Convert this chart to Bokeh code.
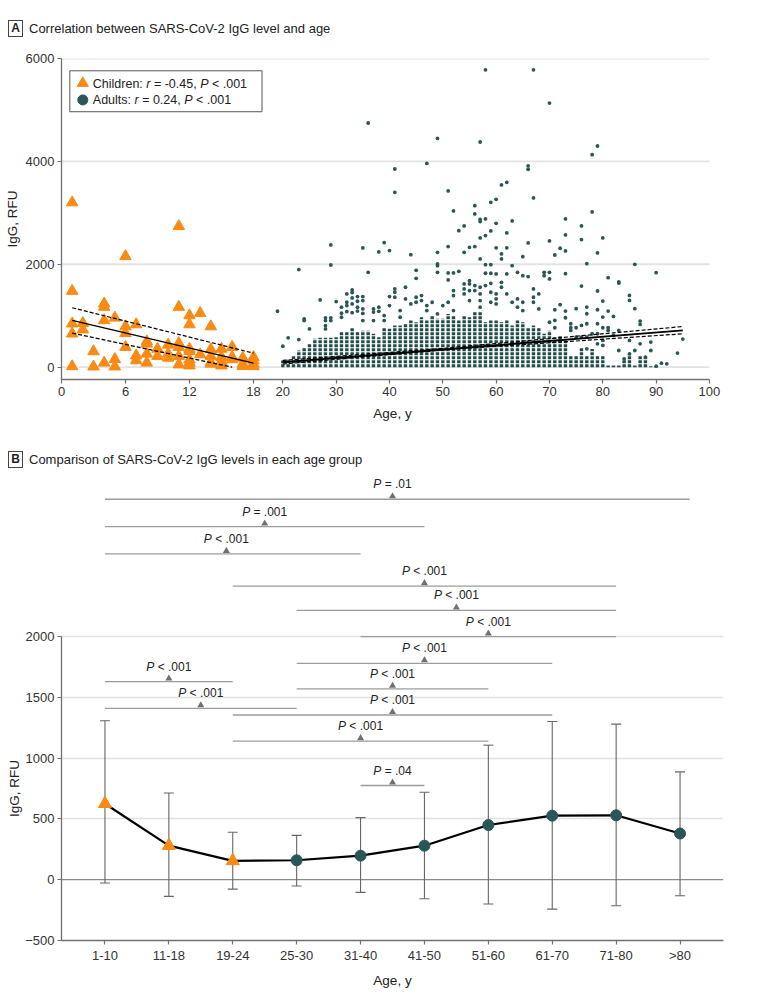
from bokeh.plotting import figure
from bokeh.models import ColumnDataSource, FixedTicker, Span, Div, Title
from bokeh.layouts import column
from bokeh.core.properties import value
from bokeh.embed import file_html
from bokeh.resources import INLINE

FONT = "Liberation Sans"
ORANGE = "#F98A14"
TEAL = "#2A5655"
TEAL_COL = "#214B49"
AXIS = "#707070"
GRID = "#E3E3E3"
TXT = "#222222"

# ---------------- Panel A data ----------------
child_age = [1, 1, 1, 1, 1, 2, 2, 3, 3, 4, 4, 4, 4, 5, 5, 5, 6, 6, 6, 6,
             7, 7, 7, 8, 8, 8, 8, 9, 9, 10, 10, 10, 11, 11, 11, 11, 11, 11,
             12, 12, 12, 12, 12, 12, 12, 13, 13, 14, 14, 14, 14, 14,
             15, 15, 15, 15, 16, 16, 16, 17, 17, 17, 18, 18, 18, 18]
child_igg = [3200, 1480, 845, 650, 15, 855, 730, 305, 10, 1235, 1170, 910, 85, 960, 155, 10, 2155, 790, 660, 390,
             830, 225, 130, 500, 455, 260, 85, 355, 215, 435, 260, 180, 2740, 1170, 465, 390, 215, 50,
             1005, 830, 355, 310, 145, 85, 30, 1050, 245, 790, 345, 215, 95, 65,
             355, 195, 115, 30, 390, 195, 150, 180, 65, 20, 195, 130, 65, 15]

child_fit_age = [1, 18]
child_fit = [909, 78]
child_hi_age = [1, 18]
child_hi = [1155, 272]
child_lo_age = [1, 16]
child_lo = [662, 0]

# dense columns of adult dots (age, top of the packed column)
adult_col_age = [20, 21, 22, 23, 24, 25, 26, 27, 28, 29, 30, 31, 32, 33, 34, 35, 36, 37, 38, 39,
                 40, 41, 42, 43, 44, 45, 46, 47, 48, 49, 50, 51, 52, 53, 54, 55, 56, 57, 58, 59,
                 60, 61, 62, 63, 64, 65, 66, 67, 68, 69, 70, 71, 72, 73, 74, 75, 76, 77, 78, 79,
                 80, 81, 82, 83, 84, 85, 86, 87, 88, 89, 90]
adult_col_top = [130, 160, 225, 325, 375, 450, 550, 570, 570, 570, 580, 680, 700, 765, 700, 710, 710, 650, 580, 765,
                 745, 810, 810, 840, 905, 875, 970, 905, 1000, 940, 940, 1035, 1000, 905, 1000, 970, 1070, 1070, 875, 905,
                 905, 875, 905, 810, 905, 875, 775, 810, 775, 650, 710, 580, 615, 520, 225, 225, 375, 225, 355, 225,
                 225, 30, 30, 30, 160, 260, 30, 225, 195, 20, 20]

# scattered adult dots
adult_out_age = [
    58, 67, 70, 36, 49, 57, 79, 78, 47, 66,
    41, 66, 62, 61, 51, 41, 67, 60, 59, 56,
    52, 78, 56, 58, 73, 57, 63, 57, 60, 54,
    76, 53, 59, 62, 73, 58, 57, 80, 76, 70,
    39, 66, 29, 51, 56, 55, 60, 62, 35, 72,
    40, 38, 49, 54, 73, 79, 61, 44, 71, 65,
    57, 61, 77, 49, 86, 58, 59, 29, 49, 63,
    23, 45, 53, 36, 49, 64, 69, 70, 90, 51,
    52, 58, 59, 73, 60, 62, 65, 69, 66, 81,
    45, 70, 51, 55, 83, 61, 83, 59, 54, 55,
    56, 58, 76, 43, 57, 61, 41, 54, 67, 33,
    52, 55, 56, 79, 41, 59, 33, 32, 54, 57,
    60, 62, 68, 85, 46, 52, 34, 35, 40, 41,
    45, 67, 33, 43, 60, 64, 27, 85, 35, 46,
    55, 57, 80, 34, 30, 32, 45, 48, 51, 59,
    63, 65, 67, 33, 44, 60, 72, 32, 40, 47,
    50, 77, 31, 34, 38, 57, 64, 35, 37, 68,
    75, 86, 71, 79, 42, 47, 52, 65, 73, 81,
    19, 31, 32, 33, 34, 35, 37, 38, 77, 49,
    39, 82, 80, 31, 42, 73, 28, 29, 24, 71,
    24, 28, 29, 35, 37, 39, 87, 70, 74, 77,
    79, 87, 76, 28, 71, 74, 75, 80, 81, 25,
    28, 74, 81, 83, 78, 79, 82, 75, 76, 77,
    21, 95, 23, 80, 85, 89, 79, 87, 80, 20,
    77, 83, 86, 89, 94, 85, 88, 84, 91, 92,
    90]
adult_out_igg = [
    5780, 5780, 5134, 4746, 4447, 4377, 4299, 4130, 3961, 3911,
    3852, 3845, 3592, 3542, 3425, 3398, 3289, 3262, 3204, 3140,
    3037, 3017, 2979, 2881, 2881, 2870, 2843, 2830, 2796, 2745,
    2745, 2654, 2648, 2610, 2571, 2557, 2512, 2512, 2480, 2454,
    2421, 2415, 2376, 2343, 2343, 2330, 2320, 2320, 2318, 2311,
    2266, 2239, 2232, 2232, 2259, 2220, 2200, 2187, 2180, 2148,
    2103, 2103, 2012, 2006, 1999, 1993, 1993, 1986, 1973, 1973,
    1896, 1883, 1863, 1844, 1844, 1844, 1844, 1844, 1837, 1831,
    1831, 1825, 1825, 1817, 1812, 1812, 1779, 1779, 1760, 1739,
    1727, 1715, 1695, 1682, 1655, 1650, 1635, 1630, 1618, 1618,
    1585, 1585, 1577, 1553, 1553, 1553, 1520, 1520, 1520, 1501,
    1488, 1488, 1488, 1480, 1456, 1456, 1449, 1423, 1423, 1423,
    1423, 1423, 1423, 1395, 1391, 1391, 1372, 1372, 1372, 1359,
    1359, 1359, 1346, 1326, 1326, 1326, 1307, 1298, 1294, 1294,
    1294, 1294, 1285, 1281, 1275, 1262, 1262, 1262, 1262, 1262,
    1262, 1262, 1262, 1229, 1229, 1229, 1214, 1197, 1197, 1197,
    1197, 1168, 1165, 1165, 1165, 1165, 1165, 1132, 1132, 1132,
    1136, 1136, 1116, 1116, 1100, 1100, 1100, 1100, 1090, 1090,
    1087, 1050, 1080, 1060, 1090, 1045, 1070, 1085, 1038, 1035,
    1003, 986, 973, 970, 970, 960, 958, 958, 938, 909,
    906, 906, 906, 906, 906, 906, 896, 873, 844, 844,
    844, 831, 811, 809, 766, 766, 766, 766, 766, 744,
    744, 714, 714, 714, 649, 649, 617, 584, 584, 584,
    570, 545, 537, 519, 519, 487, 454, 454, 422, 408,
    357, 324, 324, 324, 273, 260, 195, 162, 78, 65,
    19]

adult_fit_age = [20, 95]
adult_fit = [95, 715]
adult_ci_age = [20, 50, 95]
adult_ci_hi = [130, 365, 790]
adult_ci_lo = [60, 335, 648]

a_xtick_child = [0, 6, 12, 18]
a_xtick_adult = [20, 30, 40, 50, 60, 70, 80, 90, 100]
a_yticks = [0, 2000, 4000, 6000]

legend_rows = [
    (["Children:", "r", "= -0.45,", "P", "< .001"], [False, True, False, True, False]),
    (["Adults:", "r", "= 0.24,", "P", "< .001"], [False, True, False, True, False]),
]

# ---------------- Panel B data ----------------
b_groups = ["1-10", "11-18", "19-24", "25-30", "31-40", "41-50", "51-60", "61-70", "71-80", ">80"]
b_mean = [625, 280, 155, 160, 198, 280, 450, 527, 530, 380]
b_hi = [1308, 714, 390, 365, 511, 720, 1107, 1302, 1280, 887]
b_lo = [-27, -137, -77, -52, -104, -157, -200, -242, -214, -132]
b_n_child = 3
b_yticks = [-500, 0, 500, 1000, 1500, 2000]

br_start = [1, 1, 1, 3, 4, 5, 4, 1, 4, 1, 3, 3, 5]
br_end = [10.15, 6, 5, 9, 9, 9, 8, 3, 7, 4, 8, 7, 6]
br_y = [3130, 2905, 2680, 2415, 2215, 2000, 1780, 1630, 1570, 1410, 1355, 1140, 775]
br_mark = [5.5, 3.5, 2.9, 6, 6.5, 7, 6, 2, 5.5, 2.5, 5.5, 5, 5.5]
br_rest = ["= .01", "= .001", "< .001", "< .001", "< .001", "< .001", "< .001",
           "< .001", "< .001", "< .001", "< .001", "< .001", "= .04"]

# ---------------- helpers ----------------
CHAR_W = {' ': 0.278, ',': 0.278, '-': 0.333, '.': 0.278, ':': 0.278, '<': 0.584, '=': 0.584,
          'A': 0.667, 'C': 0.722, 'P': 0.667, 'd': 0.556, 'e': 0.556, 'h': 0.556, 'i': 0.222,
          'l': 0.222, 'n': 0.556, 'r': 0.333, 's': 0.5, 't': 0.278, 'u': 0.556,
          'I': 0.278, 'g': 0.556, 'G': 0.778, 'R': 0.722, 'F': 0.611, 'U': 0.722}


def text_w(s, size):
    return sum(CHAR_W.get(c, 0.556) for c in s) * size


CHILD_K = 2.0
ADULT_SHIFT = 21.5


def cu(a):
    return a * CHILD_K


def au(a):
    return a + ADULT_SHIFT


W = 770
BL, BR = 61, 47          # left / right borders: same frame for both panels
AXL_SIZE = 13.5


def style(p):
    p.outline_line_color = None
    p.background_fill_color = "white"
    p.border_fill_color = "white"
    p.xgrid.visible = False
    p.ygrid.grid_line_color = GRID
    p.ygrid.grid_line_width = 1.6
    for ax in list(p.xaxis) + list(p.yaxis):
        ax.axis_line_color = AXIS
        ax.axis_line_width = 1.3
        ax.major_tick_line_color = AXIS
        ax.major_tick_line_width = 1.2
        ax.major_tick_in = 0
        ax.major_tick_out = 4
        ax.minor_tick_line_color = None
        ax.major_label_text_font = FONT
        ax.major_label_text_font_size = "13px"
        ax.major_label_text_color = "#333333"
        ax.major_label_standoff = 3
        ax.axis_label_text_font = FONT
        ax.axis_label_text_font_size = f"{AXL_SIZE}px"
        ax.axis_label_text_font_style = "normal"
        ax.axis_label_text_color = TXT
    for ax in p.xaxis:
        ax.axis_label_standoff = 7
    for ax in p.yaxis:
        ax.axis_label_standoff = 3


# ---------------- Panel A ----------------
A_PX_PER_UNIT = 5.333
A_XEND = (W - BL - BR) / A_PX_PER_UNIT
pA = figure(width=W, height=386, x_range=(0, A_XEND), y_range=(-240, 6000), title=None,
            output_backend="svg", toolbar_location=None,
            min_border_left=BL, min_border_right=BR, min_border_top=10, min_border_bottom=55)
style(pA)
pA.ygrid.visible = False
pA.xaxis.axis_label = "Age, y"
pA.yaxis.axis_label = "IgG, RFU"
xt = [cu(t) for t in a_xtick_child] + [au(t) for t in a_xtick_adult]
xl = [str(t) for t in a_xtick_child + a_xtick_adult]
pA.xaxis.ticker = FixedTicker(ticks=xt)
pA.xaxis.major_label_overrides = {k: v for k, v in zip(xt, xl)}
pA.xaxis.bounds = (0, au(a_xtick_adult[-1]))
pA.yaxis.ticker = FixedTicker(ticks=a_yticks)
# horizontal gridlines, ending at the last tick of the axis
pA.segment(x0=[0] * len(a_yticks), y0=a_yticks, x1=[au(a_xtick_adult[-1])] * len(a_yticks), y1=a_yticks,
           line_color=GRID, line_width=1.8)

# adult columns + dots
pA.segment(x0=[au(a) for a in adult_col_age], y0=[0] * len(adult_col_age),
           x1=[au(a) for a in adult_col_age], y1=adult_col_top,
           line_color=TEAL_COL, line_width=3.4, line_dash="3 1")
pA.scatter(x=[au(a) for a in adult_out_age], y=adult_out_igg, marker="circle", size=3.8,
           fill_color=TEAL, line_color=None)
# adult fit
pA.line([au(a) for a in adult_fit_age], adult_fit, line_color="black", line_width=2.0)
pA.line([au(a) for a in adult_ci_age], adult_ci_hi, line_color="black", line_width=1.2, line_dash="4 2")
pA.line([au(a) for a in adult_ci_age], adult_ci_lo, line_color="black", line_width=1.2, line_dash="4 2")

# children
pA.scatter(x=[cu(a) for a in child_age], y=child_igg, marker="triangle", size=11.5,
           fill_color=ORANGE, line_color=ORANGE)
pA.line([cu(a) for a in child_fit_age], child_fit, line_color="black", line_width=1.3)
pA.line([cu(a) for a in child_hi_age], child_hi, line_color="black", line_width=1.2, line_dash="4 2")
pA.line([cu(a) for a in child_lo_age], child_lo, line_color="black", line_width=1.2, line_dash="4 2")

# legend box (layout constants in data units of panel A)
LEG_L, LEG_R, LEG_T, LEG_B = 1.56, 37.6, 5761, 4965
LEG_MX, LEG_TX = 4.0, 5.87
LEG_Y = [5500, 5195]
pA.quad(left=[LEG_L], right=[LEG_R], top=[LEG_T], bottom=[LEG_B], fill_color="white",
        line_color="#555555", line_width=1)
pA.scatter([LEG_MX], [LEG_Y[0] + 20], marker="triangle", size=11, fill_color=ORANGE, line_color=ORANGE)
pA.scatter([LEG_MX], [LEG_Y[1]], marker="circle", size=10, fill_color=TEAL, line_color=TEAL)
LSZ = 12.5
for (parts, ital), yy in zip(legend_rows, LEG_Y):
    off = 0.0
    for s, it in zip(parts, ital):
        pA.text(x=[LEG_TX], y=[yy], text=[s], x_offset=off, text_font=value(FONT),
                text_font_size=f"{LSZ}px", text_font_style="italic" if it else "normal",
                text_baseline="middle", text_align="left", text_color=TXT)
        off += text_w(s, LSZ) + text_w(" ", LSZ)

# ---------------- Panel B ----------------
b_x = list(range(1, len(b_groups) + 1))
B_YR = (-500, 3350)
B_FRAME_H = 468
pB = figure(width=W, height=2 + B_FRAME_H + 52, x_range=(0.32, 10.68), y_range=B_YR, title=None,
            output_backend="svg", toolbar_location=None,
            min_border_left=BL, min_border_right=BR, min_border_top=2, min_border_bottom=52)
style(pB)
pB.xaxis.axis_label = "Age, y"
pB.yaxis.bounds = (b_yticks[0], b_yticks[-1])
pB.yaxis.ticker = FixedTicker(ticks=b_yticks)
pB.ygrid.ticker = FixedTicker(ticks=[t for t in b_yticks if t > 0])
pB.ygrid.grid_line_width = 1.3
pB.xaxis.ticker = FixedTicker(ticks=b_x)
pB.xaxis.major_label_overrides = {k: v for k, v in zip(b_x, b_groups)}
pB.add_layout(Span(location=0, dimension="width", line_color="#8c8c8c", line_width=1.3, level="underlay"))
# y-axis title centred on the drawn part of the axis (-500..2000)
px_per_unit = B_FRAME_H / (B_YR[1] - B_YR[0])
mid_from_bottom = ((b_yticks[0] + b_yticks[-1]) / 2 - B_YR[0]) * px_per_unit
ylab = "IgG, RFU"
pB.add_layout(Title(text=ylab, align="left", vertical_align="middle",
                    offset=mid_from_bottom - text_w(ylab, AXL_SIZE) / 2, standoff=0,
                    text_font=FONT, text_font_size=f"{AXL_SIZE}px", text_font_style="normal",
                    text_color=TXT), "left")

# comparison brackets
pB.segment(x0=br_start, y0=br_y, x1=br_end, y1=br_y, line_color="#9c9c9c", line_width=1.3)
pB.scatter(x=br_mark, y=[y + 25 for y in br_y], marker="triangle", size=7,
           fill_color="#707070", line_color=None)
PSZ = 12
half = [(text_w("P ", PSZ) + text_w(r, PSZ)) / 2 for r in br_rest]
srcP = ColumnDataSource(dict(x=br_mark, y=br_y, t=["P"] * len(br_y), xo=[-h for h in half]))
srcR = ColumnDataSource(dict(x=br_mark, y=br_y, t=br_rest,
                             xo=[-h + text_w("P ", PSZ) for h in half]))
pB.text(x="x", y="y", text="t", x_offset="xo", y_offset=-15, source=srcP, text_font=value(FONT),
        text_font_size=f"{PSZ}px", text_font_style="italic", text_baseline="middle",
        text_align="left", text_color=TXT)
pB.text(x="x", y="y", text="t", x_offset="xo", y_offset=-15, source=srcR, text_font=value(FONT),
        text_font_size=f"{PSZ}px", text_font_style="normal", text_baseline="middle",
        text_align="left", text_color=TXT)

# error bars
pB.segment(x0=b_x, y0=b_lo, x1=b_x, y1=b_hi, line_color="#666666", line_width=1.1)
pB.scatter(x=b_x + b_x, y=b_hi + b_lo, marker="dash", size=10, line_color="#666666", line_width=1.1)
# mean line + markers
pB.line(b_x, b_mean, line_color="black", line_width=2.2)
pB.scatter(b_x[:b_n_child], b_mean[:b_n_child], marker="triangle", size=13,
           fill_color=ORANGE, line_color=ORANGE)
pB.scatter(b_x[b_n_child:], b_mean[b_n_child:], marker="circle", size=11,
           fill_color=TEAL, line_color=TEAL)


def title_div(letter, text, height, pad_top):
    html = (f'<div style="font-family:\'{FONT}\';font-size:13px;color:{TXT};padding-top:{pad_top}px;'
            f'padding-left:8px;white-space:nowrap;line-height:17px">'
            f'<span style="display:inline-block;box-sizing:border-box;width:15px;height:17px;'
            f'border:1px solid #444;text-align:center;line-height:15px;font-weight:bold;'
            f'font-size:12px;vertical-align:top;margin-right:6px">{letter}</span>'
            f'<span style="vertical-align:top">{text}</span></div>')
    return Div(text=html, width=W, height=height, margin=0)


divA = title_div("A", "Correlation between SARS-CoV-2 IgG level and age", 48, 20)
divB = title_div("B", "Comparison of SARS-CoV-2 IgG levels in each age group", 36, 17)

layout = column(divA, pA, divB, pB, spacing=0)
open("out.html", "w").write(file_html(layout, INLINE))
